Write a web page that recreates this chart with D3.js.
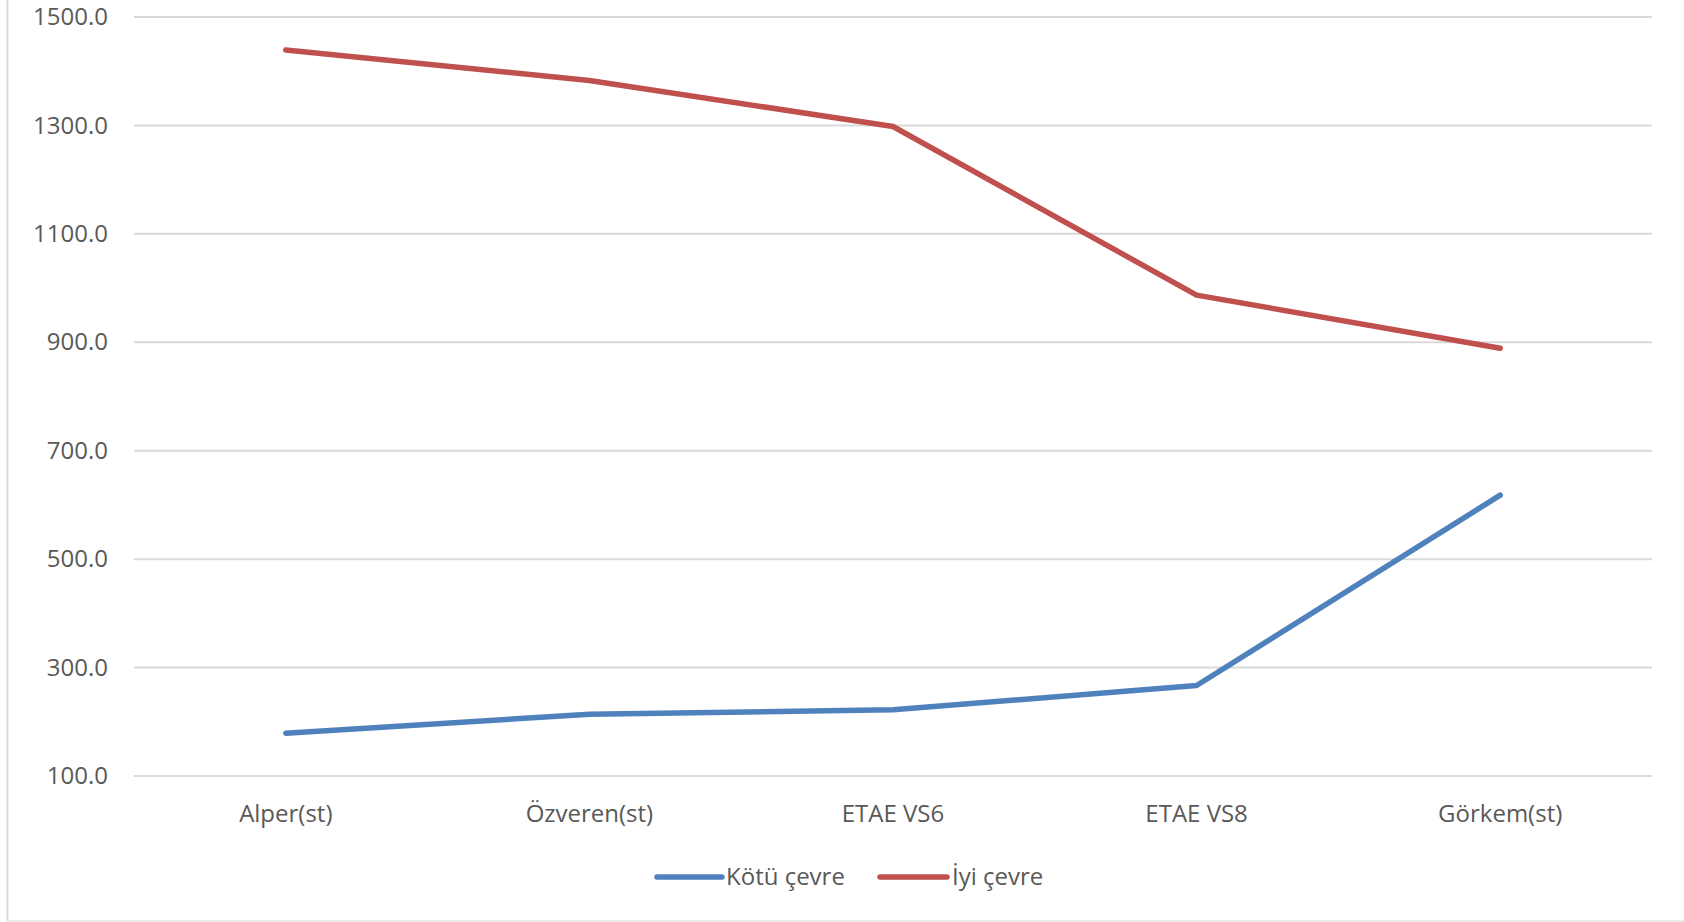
<!DOCTYPE html>
<html>
<head>
<meta charset="utf-8">
<script src="https://cdn.jsdelivr.net/npm/d3@7"></script>
<style>
  html, body { margin: 0; padding: 0; background: #fff; }
  svg { display: block; }
  text { font-family: "Open Sans", sans-serif; fill: #595959; }
</style>
</head>
<body>
<svg id="chart" width="1684" height="922"></svg>
<script>
const categories = ["Alper(st)", "Özveren(st)", "ETAE VS6", "ETAE VS8", "Görkem(st)"];
const seriesNames = ["Kötü çevre", "İyi çevre"];
const kotuCevre = [179, 214, 222, 267, 618];
const iyiCevre = [1439, 1383, 1298, 987, 889];
const yTicks = [100, 300, 500, 700, 900, 1100, 1300, 1500];
const colors = ["#4f81bd", "#c0504d"];

(function () {
const svg = d3.select("#chart");
const plotLeft = 134, plotRight = 1652, plotTop = 17, plotBottom = 776;

const x = d3.scaleBand().domain(categories).range([plotLeft, plotRight]);
const y = d3.scaleLinear().domain([100, 1500]).range([plotBottom, plotTop]);

// chart border (left & bottom visible)
svg.append("line").attr("x1", 7.5).attr("x2", 7.5).attr("y1", 0).attr("y2", 921)
  .attr("stroke", "#d9d9d9").attr("stroke-width", 2);
svg.append("line").attr("x1", 7).attr("x2", 1684).attr("y1", 921).attr("y2", 921)
  .attr("stroke", "#e6e6e6").attr("stroke-width", 1.5);

// gridlines
svg.append("g").selectAll("line").data(yTicks).join("line")
  .attr("x1", plotLeft).attr("x2", plotRight)
  .attr("y1", d => y(d)).attr("y2", d => y(d))
  .attr("stroke", "#d9d9d9").attr("stroke-width", 2);

// y axis labels
const yAxis = d3.axisLeft(y).tickValues(yTicks).tickFormat(d3.format(".1f")).tickSize(0).tickPadding(26);
const yg = svg.append("g").attr("transform", `translate(${plotLeft},0)`).call(yAxis);
yg.select(".domain").remove();
yg.selectAll("text").style("font-size", "24px").attr("fill", "#595959")
  .style("font-family", "'Open Sans', sans-serif");

// x axis labels
const xAxis = d3.axisBottom(x).tickSize(0).tickPadding(29);
const xg = svg.append("g").attr("transform", `translate(0,${plotBottom})`).call(xAxis);
xg.select(".domain").remove();
xg.selectAll("text").style("font-size", "24px").attr("fill", "#595959")
  .style("font-family", "'Open Sans', sans-serif");

// lines
const line = d3.line().x((d, i) => x(categories[i]) + x.bandwidth() / 2).y(d => y(d));
[kotuCevre, iyiCevre].forEach((s, i) => {
  svg.append("path").datum(s).attr("d", line)
    .attr("fill", "none").attr("stroke", colors[i]).attr("stroke-width", 5.5)
    .attr("stroke-linejoin", "round").attr("stroke-linecap", "round");
});

// legend
const legendY = 877;
const legendItems = [
  { x1: 657, x2: 722, tx: 726 },
  { x1: 880, x2: 947, tx: 952 }
];
seriesNames.forEach((name, i) => {
  const it = legendItems[i];
  svg.append("line").attr("x1", it.x1).attr("x2", it.x2).attr("y1", legendY).attr("y2", legendY)
    .attr("stroke", colors[i]).attr("stroke-width", 5.5).attr("stroke-linecap", "round");
  svg.append("text").attr("x", it.tx).attr("y", legendY).attr("dy", "0.35em")
    .style("font-size", "24px").text(name);
});
})();
</script>
</body>
</html>
